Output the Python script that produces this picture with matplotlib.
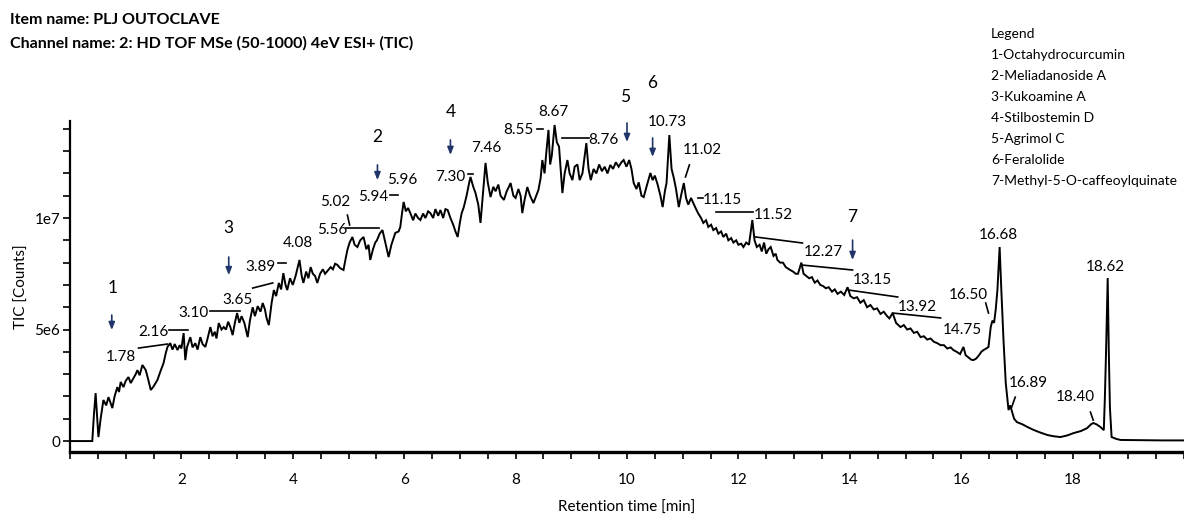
import matplotlib
matplotlib.use("Agg")
import matplotlib.pyplot as plt
from matplotlib.ticker import FixedLocator, FixedFormatter, MultipleLocator

# ---------------- data ----------------
title_lines = ["Item name: PLJ OUTOCLAVE",
               "Channel name: 2: HD TOF MSe (50-1000) 4eV ESI+ (TIC)"]
legend_lines = ["Legend", "1-Octahydrocurcumin", "2-Meliadanoside A", "3-Kukoamine A",
                "4-Stilbostemin D", "5-Agrimol C", "6-Feralolide",
                "7-Methyl-5-O-caffeoylquinate"]

# retention time (min)
rt = [0.00, 0.40, 0.43, 0.46, 0.49, 0.51, 0.55, 0.60, 0.65, 0.69, 0.73, 0.76, 0.80, 0.85,
      0.88, 0.91, 0.96, 1.00, 1.05, 1.09, 1.14, 1.18, 1.21, 1.25, 1.30, 1.33, 1.36, 1.40,
      1.45, 1.50, 1.57, 1.62, 1.68, 1.72, 1.75, 1.80, 1.84, 1.88, 1.93, 1.97, 2.00, 2.04,
      2.07, 2.10, 2.16, 2.20, 2.25, 2.29, 2.34, 2.38, 2.43, 2.47, 2.52, 2.56, 2.60, 2.63,
      2.67, 2.72, 2.76, 2.80, 2.84, 2.88, 2.92, 2.96, 3.00, 3.04, 3.08, 3.13, 3.19, 3.23,
      3.28, 3.32, 3.37, 3.42, 3.46, 3.50, 3.53, 3.57, 3.62, 3.66, 3.70, 3.75, 3.79, 3.83,
      3.87, 3.90, 3.95, 4.00, 4.05, 4.12, 4.16, 4.19, 4.24, 4.28, 4.32, 4.36, 4.40, 4.44,
      4.49, 4.54, 4.58, 4.63, 4.68, 4.72, 4.76, 4.80, 4.85, 4.91, 4.95, 4.98, 5.02, 5.07,
      5.11, 5.16, 5.21, 5.27, 5.32, 5.36, 5.39, 5.44, 5.48, 5.51, 5.56, 5.61, 5.66, 5.72,
      5.77, 5.84, 5.90, 5.93, 5.96, 5.99, 6.03, 6.07, 6.11, 6.16, 6.20, 6.25, 6.29, 6.34,
      6.38, 6.43, 6.47, 6.52, 6.56, 6.61, 6.65, 6.70, 6.74, 6.78, 6.83, 6.88, 6.92, 6.96,
      7.00, 7.03, 7.07, 7.12, 7.16, 7.19, 7.24, 7.28, 7.33, 7.37, 7.41, 7.46, 7.50, 7.55,
      7.60, 7.64, 7.69, 7.73, 7.79, 7.84, 7.88, 7.91, 7.96, 8.00, 8.05, 8.09, 8.12, 8.16,
      8.21, 8.26, 8.32, 8.37, 8.41, 8.45, 8.48, 8.52, 8.55, 8.59, 8.62, 8.65, 8.70, 8.74,
      8.78, 8.84, 8.88, 8.93, 8.97, 9.02, 9.06, 9.11, 9.15, 9.20, 9.27, 9.31, 9.35, 9.40,
      9.45, 9.50, 9.55, 9.60, 9.65, 9.70, 9.75, 9.80, 9.85, 9.90, 9.94, 9.99, 10.04, 10.08,
      10.12, 10.17, 10.21, 10.26, 10.30, 10.35, 10.42, 10.46, 10.50, 10.55, 10.60, 10.64,
      10.68, 10.71, 10.76, 10.80, 10.84, 10.88, 10.93, 10.97, 11.02, 11.06, 11.10, 11.15,
      11.19, 11.24, 11.28, 11.33, 11.37, 11.42, 11.46, 11.51, 11.55, 11.60, 11.64, 11.69,
      11.73, 11.78, 11.82, 11.87, 11.91, 11.96, 12.00, 12.05, 12.09, 12.14, 12.19, 12.25,
      12.29, 12.33, 12.38, 12.42, 12.46, 12.50, 12.54, 12.58, 12.63, 12.67, 12.70, 12.75,
      12.80, 12.85, 12.93, 12.98, 13.03, 13.07, 13.13, 13.17, 13.22, 13.27, 13.32, 13.37,
      13.42, 13.47, 13.52, 13.57, 13.62, 13.68, 13.73, 13.78, 13.84, 13.90, 13.96, 14.01,
      14.07, 14.13, 14.19, 14.25, 14.31, 14.37, 14.43, 14.49, 14.55, 14.61, 14.67, 14.71,
      14.77, 14.83, 14.91, 14.97, 15.03, 15.09, 15.15, 15.21, 15.27, 15.33, 15.39, 15.45,
      15.51, 15.57, 15.63, 15.69, 15.75, 15.81, 15.86, 15.92, 15.98, 16.04, 16.08, 16.13,
      16.18, 16.22, 16.27, 16.32, 16.36, 16.40, 16.45, 16.49, 16.53, 16.56, 16.59, 16.62,
      16.65, 16.69, 16.72, 16.76, 16.80, 16.85, 16.88, 16.92, 16.95, 17.00, 17.10, 17.19,
      17.30, 17.40, 17.55, 17.65, 17.78, 17.90, 18.02, 18.15, 18.26, 18.33, 18.37, 18.43,
      18.50, 18.56, 18.58, 18.60, 18.63, 18.65, 18.67, 18.70, 18.78, 18.86, 19.20, 19.60,
      20.00]

# TIC intensity (millions of counts)
tic_m = [0.0, 0.0, 1.2, 2.15, 1.0, 0.18, 1.0, 1.84, 1.6, 1.97, 1.7, 1.48, 2.0, 2.42,
         2.2, 2.65, 2.42, 2.7, 2.87, 2.6, 2.82, 3.0, 3.18, 2.95, 3.41, 3.3, 3.18, 2.8,
         2.29, 2.45, 2.74, 3.1, 3.5, 3.95, 4.22, 4.39, 4.1, 4.35, 4.08, 4.3, 4.15, 4.84,
         3.63, 4.2, 4.66, 4.2, 4.39, 4.1, 4.66, 4.35, 4.22, 4.6, 5.11, 4.7, 4.9, 4.6,
         5.29, 5.0, 5.11, 5.0, 5.35, 5.1, 4.75, 5.3, 5.74, 5.3, 5.6, 5.3, 4.66, 5.4,
         6.0, 5.6, 6.05, 5.8, 6.19, 5.9, 5.5, 5.2, 6.2, 6.77, 6.5, 7.09, 6.8, 7.53,
         7.0, 6.77, 7.3, 7.0, 7.4, 8.12, 7.4, 7.09, 7.6, 7.3, 7.8, 7.5, 7.4, 7.09,
         7.5, 7.7, 7.5, 7.65, 7.8, 7.7, 7.95, 7.9, 7.75, 7.67, 8.2, 8.57, 8.9, 9.15,
         8.8, 8.7, 9.0, 9.15, 8.6, 8.8, 8.12, 8.6, 8.9, 9.0, 9.3, 9.46, 8.9, 8.25,
         8.8, 9.33, 9.4, 9.6, 10.2, 10.72, 10.3, 10.45, 10.22, 9.9, 10.2, 10.0, 9.91, 10.2,
         10.0, 10.3, 10.22, 10.0, 10.4, 10.1, 10.36, 10.0, 10.4, 10.36, 10.0, 9.7, 9.4, 9.15,
         9.8, 10.2, 10.49, 11.0, 11.5, 11.84, 11.4, 11.12, 10.6, 9.78, 11.0, 12.47, 11.6, 10.94,
         11.4, 11.2, 11.5, 11.0, 10.81, 11.2, 11.4, 11.57, 11.0, 10.9, 11.3, 11.0, 10.22, 10.8,
         11.39, 11.0, 10.67, 11.0, 11.26, 11.8, 12.6, 12.0, 12.9, 13.95, 12.4, 12.8, 14.17, 13.4,
         13.2, 11.12, 12.0, 12.6, 12.0, 11.7, 12.3, 12.4, 11.7, 12.0, 13.36, 12.2, 11.7, 12.2,
         12.0, 12.4, 12.1, 12.3, 12.0, 12.38, 12.2, 12.5, 12.3, 12.5, 12.6, 12.3, 12.6, 12.2,
         11.57, 11.3, 11.6, 11.0, 10.94, 11.4, 12.02, 11.7, 11.9, 11.5, 11.0, 10.49,
         11.2, 11.57, 13.72, 12.2, 11.8, 11.3, 10.49, 11.0, 11.57, 10.9, 10.6, 10.9,
         10.67, 10.4, 10.2, 10.0, 9.78, 9.9, 9.6, 9.7, 9.46, 9.55, 9.3, 9.4,
         9.15, 9.3, 9.0, 9.1, 8.9, 9.0, 8.8, 8.85, 8.7, 8.9, 8.8, 9.91,
         9.0, 8.7, 8.8, 8.5, 8.9, 8.4, 8.6, 8.7, 8.3, 8.4, 8.12, 8.0,
         8.0, 7.8, 7.67, 7.6, 7.5, 7.5, 8.0, 7.5, 7.4, 7.3, 7.35, 7.1,
         7.2, 7.0, 6.95, 6.85, 6.9, 6.7, 6.8, 6.6, 6.7, 6.55, 6.9, 6.5,
         6.4, 6.45, 6.2, 6.32, 6.0, 6.1, 5.9, 5.95, 5.7, 5.8, 5.6, 5.5,
         5.74, 5.3, 5.11, 5.2, 5.0, 5.05, 4.85, 4.9, 4.66, 4.7, 4.55, 4.6,
         4.45, 4.39, 4.3, 4.3, 4.15, 4.2, 4.08, 4.0, 3.9, 4.22, 3.85, 3.75,
         3.65, 3.63, 3.7, 3.85, 4.0, 4.08, 4.15, 4.22, 5.11, 5.4, 5.3, 5.9,
         6.77, 8.7, 6.8, 4.5, 2.6, 1.39, 1.6, 1.26, 1.0, 0.85, 0.75, 0.63,
         0.5, 0.4, 0.27, 0.22, 0.18, 0.25, 0.36, 0.45, 0.58, 0.75, 0.81, 0.75,
         0.63, 0.49, 2.0, 3.95, 7.31, 4.0, 1.5, 0.18, 0.1, 0.05, 0.04, 0.03,
         0.03]

# peak retention-time labels
peak_labels = ["1.78", "2.16", "3.10", "3.65", "3.89", "4.08", "5.02", "5.56", "5.94",
               "5.96", "7.30", "7.46", "8.55", "8.67", "8.76", "10.73", "11.02", "11.15",
               "11.52", "12.27", "13.15", "13.92", "14.75", "16.50", "16.68", "16.89",
               "18.40", "18.62"]
# compound numbers
compound_ids = ["1", "2", "3", "4", "5", "6", "7"]

# ---------------- layout (positions in data units) ----------------
peak_label_pos = [(0.91, 3.77), (1.50, 4.89), (2.22, 5.74), (3.01, 6.32), (3.42, 7.80),
                  (4.10, 8.88), (4.77, 10.72), (4.71, 9.46), (5.45, 10.94), (5.97, 11.70),
                  (6.83, 11.84), (7.48, 13.14), (8.05, 13.95), (8.68, 14.75), (9.58, 13.50),
                  (10.73, 14.30), (11.36, 13.05), (11.71, 10.81), (12.63, 10.13),
                  (13.53, 8.48), (14.41, 7.22), (15.21, 6.01), (16.02, 4.98), (16.13, 6.55),
                  (16.67, 9.24), (17.21, 2.60), (18.05, 1.97), (18.59, 7.80)]
leader_lines = [((1.23, 4.17), (1.75, 4.35)), ((1.77, 4.98), (2.11, 4.98)),
                ((2.52, 5.83), (3.06, 5.83)), ((3.28, 6.86), (3.64, 7.09)),
                ((3.73, 7.98), (3.87, 7.98)), None,
                ((4.98, 10.13), (5.02, 9.69)), ((4.95, 9.55), (5.54, 9.55)),
                ((5.75, 11.03), (5.88, 11.03)), None,
                ((7.14, 11.97), (7.24, 11.97)), None,
                ((8.38, 13.99), (8.50, 13.99)), None, ((8.84, 13.59), (9.31, 13.59)),
                None, ((11.12, 12.38), (11.05, 11.84)), ((11.27, 10.90), (11.37, 10.90)),
                ((11.59, 10.27), (12.27, 10.27)), ((12.31, 9.15), (13.15, 8.88)),
                ((13.15, 7.89), (14.05, 7.67)), ((13.98, 6.77), (14.86, 6.46)),
                ((14.77, 5.74), (15.63, 5.52)), ((16.44, 6.19), (16.49, 5.74)),
                None, ((16.97, 1.97), (16.90, 1.48)), ((18.32, 1.30), (18.37, 0.94)), None]
compound_pos = [(0.76, 6.86), (5.52, 13.63), (2.85, 9.55), (6.83, 14.75),
                (9.97, 15.43), (10.46, 16.05), (14.05, 10.04)]
compound_arrows = [(0.75, 5.65, 4.98), (5.52, 12.38, 11.70), (2.85, 8.25, 7.44),
                   (6.83, 13.50, 12.83), (10.0, 14.26, 13.41), (10.46, 13.59, 12.74),
                   (14.05, 9.01, 8.12)]

FONT = ["Lato", "DejaVu Sans"]
plt.rcParams["font.family"] = FONT

W, H = 1184, 519
fig = plt.figure(figsize=(W / 100, H / 100), dpi=100)
ax = fig.add_axes([70 / W, 1 - 452 / H, (W - 70) / W, (452 - 121) / H])

ax.plot(rt, [v * 1e6 for v in tic_m], color="black", lw=1.4, solid_joinstyle="miter")

ax.set_xlim(0, 20)
ax.set_ylim(-0.49e6, 14.35e6)

for s in ["top", "right"]:
    ax.spines[s].set_visible(False)
ax.spines["bottom"].set_linewidth(2.4)
ax.spines["left"].set_linewidth(1.6)

ax.xaxis.set_major_locator(FixedLocator([2, 4, 6, 8, 10, 12, 14, 16, 18]))
ax.xaxis.set_minor_locator(MultipleLocator(0.5))
ax.yaxis.set_major_locator(FixedLocator([0, 5e6, 1e7]))
ax.yaxis.set_major_formatter(FixedFormatter(["0", "5e6", "1e7"]))
ax.yaxis.set_minor_locator(MultipleLocator(1e6))
ax.tick_params(axis="x", which="both", length=5, width=1.2, pad=10, labelsize=11)
ax.tick_params(axis="y", which="both", length=5, width=1.2, pad=2, labelsize=11)

ax.set_xlabel("Retention time [min]", fontsize=11, labelpad=10)
ax.set_ylabel("TIC [Counts]", fontsize=11, labelpad=4)

for txt, (x, y), ln in zip(peak_labels, peak_label_pos, leader_lines):
    ax.text(x, y, txt, fontsize=11, ha="center", va="center", clip_on=False)
    if ln is not None:
        (x0, y0), (x1, y1) = ln
        ax.plot([x0, x1], [y0 * 1e6, y1 * 1e6], color="black", lw=1.2, clip_on=False)

# convert label positions to counts
for t in ax.texts:
    x, y = t.get_position()
    t.set_position((x, y * 1e6))

for cid, (x, y), (ax_x, y0, y1) in zip(compound_ids, compound_pos, compound_arrows):
    ax.text(x, y * 1e6, cid, fontsize=12.5, ha="center", va="center", clip_on=False)
    ax.annotate("", xy=(ax_x, y1 * 1e6), xytext=(ax_x, y0 * 1e6),
                arrowprops=dict(arrowstyle="-|>,head_length=0.45,head_width=0.18",
                                color="#1f3468", lw=1.2, shrinkA=0, shrinkB=0),
                annotation_clip=False)

fig.text(10 / W, 1 - 20 / H, title_lines[0], fontsize=11.5, fontweight="bold",
         ha="left", va="center")
fig.text(10 / W, 1 - 43 / H, title_lines[1], fontsize=11.5, fontweight="bold",
         ha="left", va="center")

for i, line in enumerate(legend_lines):
    fig.text(991 / W, 1 - (34 + i * 21) / H, line, fontsize=10, ha="left", va="center")

fig.savefig("out.png", dpi=100)
